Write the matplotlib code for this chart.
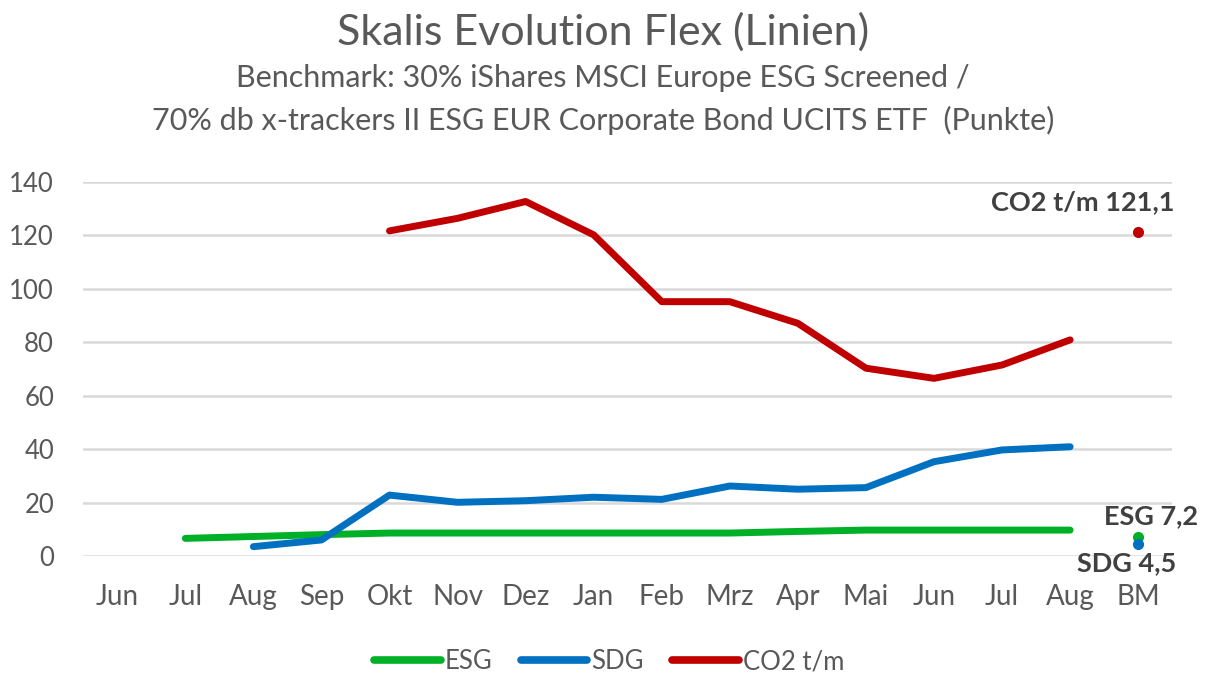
import numpy as np
import matplotlib
matplotlib.use('Agg')
import matplotlib.pyplot as plt

# data
months = ['Jun', 'Jul', 'Aug', 'Sep', 'Okt', 'Nov', 'Dez', 'Jan',
          'Feb', 'Mrz', 'Apr', 'Mai', 'Jun', 'Jul', 'Aug', 'BM']
esg = [None, 6.6, 7.3, 8.0, 8.6, 8.6, 8.6, 8.6, 8.6, 8.6, 9.2, 9.7, 9.7, 9.7, 9.7]
sdg = [None, None, 3.5, 6.0, 22.8, 20.1, 20.7, 22.0, 21.2, 26.2, 25.0, 25.6, 35.3, 39.7, 40.9]
co2 = [None, None, None, None, 121.7, 126.4, 132.7, 120.2, 95.2, 95.2, 87.1, 70.3, 66.5, 71.5, 80.9]
bm_esg = 7.2
bm_sdg = 4.5
bm_co2 = 121.1

GREEN = '#00B026'
BLUE = '#0070C0'
RED = '#C00000'
TXT = '#595959'

plt.rcParams['font.family'] = ['Lato', 'DejaVu Sans']

fig = plt.figure(figsize=(12.06, 6.76), dpi=100)
ax = fig.add_axes([0.069, 0.1775, 0.903, 0.5533])

x = np.arange(len(months))

def to_arr(vals):
    return np.array([np.nan if v is None else v for v in vals], dtype=float)

ax.plot(x[:len(esg)], to_arr(esg), color=GREEN, lw=5, solid_capstyle='round', label='ESG', clip_on=False, zorder=3)
ax.plot(x[:len(sdg)], to_arr(sdg), color=BLUE, lw=5, solid_capstyle='round', label='SDG', clip_on=False, zorder=4)
ax.plot(x[:len(co2)], to_arr(co2), color=RED, lw=5, solid_capstyle='round', label='CO2 t/m', clip_on=False, zorder=3)

bm = x[-1]
ax.plot([bm], [bm_co2], 'o', color=RED, ms=7, zorder=5, clip_on=False)
ax.plot([bm], [bm_esg], 'o', color=GREEN, ms=7, zorder=5, clip_on=False)
ax.plot([bm], [bm_sdg], 'o', color=BLUE, ms=7, zorder=6, clip_on=False)

ax.annotate('CO2 t/m 121,1', (bm, bm_co2), xytext=(26, 13), textcoords='offset points',
            ha='right', va='bottom', fontsize=19.5, fontweight='bold', color='#404040')
ax.annotate('ESG 7,2', (bm, bm_esg), xytext=(9, 6), textcoords='offset points',
            ha='center', va='bottom', fontsize=19.5, fontweight='bold', color='#404040')
ax.annotate('SDG 4,5', (bm, bm_sdg), xytext=(-8, -5), textcoords='offset points',
            ha='center', va='top', fontsize=19.5, fontweight='bold', color='#404040')

ax.set_xlim(-0.5, len(months) - 0.5)
ax.set_ylim(0, 140)
ax.set_yticks(np.arange(0, 141, 20))
ax.set_xticks(x)
ax.set_xticklabels(months)
ax.tick_params(axis='both', length=0, labelcolor=TXT)
ax.tick_params(axis='x', pad=20, labelsize=20)
ax.tick_params(axis='y', pad=21, labelsize=18.5)
ax.grid(axis='y', color='#D9D9D9', lw=1.8)
ax.set_axisbelow(True)
for s in ax.spines.values():
    s.set_visible(False)

fig.text(0.5, 0.952, 'Skalis Evolution Flex (Linien)', ha='center', va='center', fontsize=31, color=TXT)
fig.text(0.5, 0.885, 'Benchmark: 30% iShares MSCI Europe ESG Screened /', ha='center', va='center', fontsize=22, color=TXT)
fig.text(0.5, 0.822, '70% db x-trackers II ESG EUR Corporate Bond UCITS ETF  (Punkte)', ha='center', va='center', fontsize=22, color=TXT)

leg = fig.legend(loc='center', bbox_to_anchor=(0.505, 0.021), ncol=3, frameon=False, fontsize=18.5,
                 handlelength=2.6, handletextpad=0.15, columnspacing=1.1, labelcolor=TXT)
for h in leg.legend_handles:
    h.set_linewidth(5.5)

fig.savefig('out.png', dpi=100, facecolor='white')
